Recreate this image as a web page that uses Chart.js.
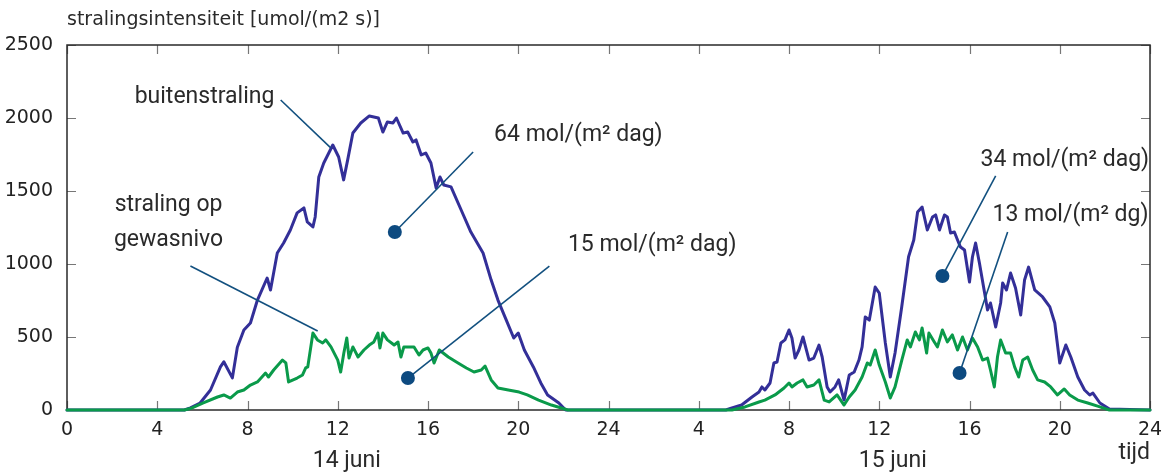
<!DOCTYPE html>
<html>
<head>
<meta charset="utf-8">
<script src="https://cdn.jsdelivr.net/npm/chart.js@4/dist/chart.umd.min.js"></script>
<style>
  html, body { margin: 0; padding: 0; background: #fff; }
  #wrap { width: 1165px; height: 475px; }
</style>
</head>
<body>
<div id="wrap"><canvas id="chart"></canvas></div>
<script>
// hours since midnight 14 juni (0..48)
const outsideHours = [
    0, 5.2, 5.47, 5.9, 6.36, 6.8, 6.95, 7.33, 7.55, 7.84, 8.13, 8.44, 8.87, 9.02, 9.32, 9.6, 9.9,
    10.2, 10.5, 10.65, 10.9, 11.0, 11.16, 11.38, 11.78, 12.04, 12.26, 12.44, 12.67, 13.02, 13.4,
    13.8, 14.0, 14.2, 14.45, 14.6, 14.9, 15.1, 15.33, 15.47, 15.7, 15.9, 16.13, 16.36, 16.53, 16.7,
    17.02, 17.47, 17.9, 18.44, 18.8, 19.1, 19.47, 19.8, 20.0, 20.27, 20.67, 21.0, 21.3, 21.8, 22.1,
    29.2, 29.47, 29.9, 30.36, 30.67, 30.8, 30.93, 31.16, 31.33, 31.47, 31.64, 31.82, 32.0, 32.13,
    32.27, 32.44, 32.62, 32.89, 33.1, 33.33, 33.47, 33.69, 33.82, 34.04, 34.2, 34.44, 34.67, 34.89,
    35.1, 35.24, 35.38, 35.56, 35.82, 36.0, 36.27, 36.49, 36.7, 37.0, 37.3, 37.53, 37.7, 37.9,
    38.13, 38.36, 38.5, 38.67, 38.89, 39.02, 39.16, 39.33, 39.47, 39.6, 39.78, 40.0, 40.13, 40.27,
    40.44, 40.67, 40.8, 40.93, 41.16, 41.38, 41.47, 41.64, 41.82, 42.04, 42.27, 42.44, 42.62,
    42.89, 43.24, 43.56, 43.78, 44.0, 44.27, 44.49, 44.8, 45.1, 45.33, 45.47, 45.78, 46.2, 48
];
const outsideValues = [
    0, 0, 14, 48, 137, 295, 330, 220, 430, 548, 596, 753, 904, 822, 1075, 1144, 1233,
    1350, 1384, 1288, 1254, 1322, 1596, 1692, 1815, 1733, 1576, 1713, 1897, 1966, 2014,
    2000, 1904, 1973, 1966, 2000, 1897, 1904, 1836, 1850, 1747, 1760, 1692, 1521, 1596, 1541,
    1528, 1370, 1219, 1075, 890, 753, 616, 493, 527, 411, 295, 185, 103, 48, 0,
    0, 14, 34, 89, 123, 158, 137, 185, 322, 329, 459, 480, 548, 493,
    356, 411, 500, 342, 356, 445, 363, 158, 123, 158, 206, 68, 240, 260,
    342, 432, 637, 616, 842, 801, 459, 226, 390, 710, 1050, 1164, 1356, 1390,
    1233, 1322, 1336, 1233, 1336, 1322, 1212, 1219, 1164, 1116, 1096, 877, 1048, 1144,
    1007, 801, 685, 733, 569, 733, 870, 822, 938, 836, 651, 890, 979,
    822, 774, 706, 596, 322, 445, 363, 226, 137, 103, 116, 48, 7, 0
];

const cropHours = [
    0, 5.2, 5.47, 6.04, 6.67, 6.95, 7.24, 7.55, 7.84, 8.13, 8.44, 8.8, 8.93, 9.16, 9.55, 9.7, 9.82,
    10.2, 10.44, 10.58, 10.67, 10.9, 11.1, 11.33, 11.47, 11.7, 12.0, 12.13, 12.27, 12.4, 12.5, 12.67,
    12.9, 13.16, 13.4, 13.6, 13.78, 13.87, 14.0, 14.2, 14.5, 14.67, 14.8, 14.93, 15.38, 15.6, 15.78,
    16.0, 16.13, 16.27, 16.5, 16.9, 17.33, 17.7, 18.04, 18.36, 18.53, 18.8, 19.1, 19.56, 20.04, 20.4,
    20.9, 21.47, 22.2,
    29.47, 30.05, 30.67, 30.93, 31.38, 31.78, 32.0, 32.13, 32.36, 32.62, 32.8, 33.1, 33.33, 33.56,
    33.78, 34.13, 34.44, 34.67, 34.93, 35.24, 35.47, 35.6, 35.82, 36.0, 36.27, 36.49, 36.7, 37.0,
    37.24, 37.38, 37.6, 37.78, 37.9, 38.1, 38.2, 38.44, 38.58, 38.8, 39.02, 39.24, 39.47, 39.69,
    39.91, 40.13, 40.36, 40.58, 40.8, 40.93, 41.1, 41.24, 41.38, 41.6, 41.82, 42.0, 42.18, 42.36,
    42.58, 42.8, 43.02, 43.33, 43.6, 43.9, 44.2, 44.44, 44.8, 45.24, 45.78, 46.2, 48
];
const cropValues = [
    0, 0, 10, 48, 89, 103, 82, 123, 137, 171, 192, 253, 226, 274, 342, 322, 192,
    219, 240, 288, 295, 527, 480, 459, 480, 432, 342, 260, 390, 493, 356, 432,
    363, 411, 445, 466, 527, 425, 527, 480, 445, 466, 363, 432, 432, 377, 411,
    425, 390, 322, 411, 363, 322, 288, 260, 274, 301, 206, 151, 137, 123, 103,
    68, 34, 0,
    0, 21, 55, 68, 103, 151, 185, 158, 185, 206, 158, 171, 206, 68,
    55, 103, 34, 89, 137, 226, 322, 308, 411, 308, 192, 82, 158, 342,
    480, 432, 534, 480, 562, 390, 527, 466, 432, 548, 466, 514, 411, 500,
    411, 493, 432, 342, 356, 274, 158, 363, 480, 390, 390, 295, 226, 342,
    363, 274, 206, 192, 158, 103, 144, 103, 68, 48, 21, 0, 0
];

const dayLabels = ['14 juni', '15 juni'];
const dayLabelHours = [12.4, 36.6];

// annotation texts with dot and leader line end, in hours / umol units
const notes = [
    { text: ['buitenstraling'], at: [3.0, 2144], from: [9.47, 2123], to: [11.69, 1795] },
    { text: ['straling op', 'gewasnivo'], at: [4.5, 1405], from: [5.47, 986], to: [11.11, 541], center: true },
    { text: ['64 mol/(m² dag)'], at: [18.93, 1884], dot: [14.53, 1219], to: [18.0, 1767] },
    { text: ['15 mol/(m² dag)'], at: [22.2, 1130], dot: [15.11, 219], to: [21.38, 986] },
    { text: ['34 mol/(m² dag)'], at: [40.49, 1712], dot: [38.8, 918], to: [41.16, 1603] },
    { text: ['13 mol/(m² dg)'], at: [41.02, 1336], dot: [39.56, 253], to: [41.69, 1219] }
];

const toPoints = (hours, values) => hours.map((h, i) => ({ x: h, y: values[i] }));

const frame = {
    id: 'frame',
    beforeDatasetsDraw(chart) {
        const { ctx, chartArea: a, scales: { x, y } } = chart;
        ctx.save();
        ctx.strokeStyle = '#777';
        ctx.lineWidth = 1.2;
        ctx.beginPath();
        x.ticks.forEach((t) => {
            const px = Math.round(x.getPixelForValue(t.value)) + 0.5;
            ctx.moveTo(px, a.bottom); ctx.lineTo(px, a.bottom - 9);
            ctx.moveTo(px, a.top); ctx.lineTo(px, a.top + 9);
        });
        y.ticks.forEach((t) => {
            const py = Math.round(y.getPixelForValue(t.value)) + 0.5;
            ctx.moveTo(a.left, py); ctx.lineTo(a.left + 9, py);
            ctx.moveTo(a.right, py); ctx.lineTo(a.right - 9, py);
        });
        ctx.stroke();
        ctx.strokeStyle = '#2a2a2a';
        ctx.lineWidth = 1.5;
        ctx.strokeRect(a.left, a.top, a.width, a.height);
        ctx.restore();
    },
    afterDatasetsDraw(chart) {
        const { ctx, chartArea: a, scales: { x, y } } = chart;
        ctx.save();
        ctx.font = '23px Roboto';
        ctx.fillStyle = '#2a2a2a';
        ctx.textBaseline = 'middle';

        notes.forEach((n) => {
            const start = n.dot || n.from;
            ctx.strokeStyle = '#12507f';
            ctx.lineWidth = 1.6;
            ctx.beginPath();
            ctx.moveTo(x.getPixelForValue(start[0]), y.getPixelForValue(start[1]));
            ctx.lineTo(x.getPixelForValue(n.to[0]), y.getPixelForValue(n.to[1]));
            ctx.stroke();
            if (n.dot) {
                ctx.fillStyle = '#0d4a80';
                ctx.beginPath();
                ctx.arc(x.getPixelForValue(n.dot[0]), y.getPixelForValue(n.dot[1]), 7, 0, Math.PI * 2);
                ctx.fill();
            }
            ctx.fillStyle = '#2a2a2a';
            ctx.textAlign = n.center ? 'center' : 'left';
            const tx = x.getPixelForValue(n.at[0]);
            const ty = y.getPixelForValue(n.at[1]);
            n.text.forEach((line, i) => {
                ctx.fillText(line, tx, ty + i * 35);
            });
        });

        // day labels and axis names
        ctx.textAlign = 'center';
        dayLabels.forEach((label, i) => {
            ctx.fillText(label, x.getPixelForValue(dayLabelHours[i]), a.bottom + 51);
        });
        ctx.textAlign = 'right';
        ctx.fillText('tijd', a.right, a.bottom + 43);

        ctx.font = '19px "DejaVu Sans"';
        ctx.textAlign = 'left';
        ctx.fillText('stralingsintensiteit [umol/(m2 s)]', a.left, 20);
        ctx.restore();
    }
};

new Chart(document.getElementById('chart'), {
    type: 'line',
    data: {
        datasets: [
            {
                label: 'straling op gewasnivo',
                data: toPoints(cropHours, cropValues),
                borderColor: '#0a9a4a',
                borderWidth: 3,
                clip: 6
            },
            {
                label: 'buitenstraling',
                data: toPoints(outsideHours, outsideValues),
                borderColor: '#332f98',
                borderWidth: 3,
                clip: 6
            }
        ]
    },
    options: {
        responsive: true,
        maintainAspectRatio: false,
        animation: false,
        layout: { padding: { left: 0, right: 15, top: 45, bottom: 0 } },
        elements: {
            point: { radius: 0 },
            line: { tension: 0, borderJoinStyle: 'round', borderCapStyle: 'round' }
        },
        plugins: {
            legend: { display: false },
            tooltip: { enabled: false }
        },
        scales: {
            x: {
                type: 'linear',
                min: 0,
                max: 48,
                grid: { display: false },
                border: { display: false },
                afterFit: (scale) => { scale.height = 65; },
                ticks: {
                    stepSize: 4,
                    padding: 1,
                    color: '#222',
                    font: { family: 'DejaVu Sans', size: 19 },
                    maxRotation: 0,
                    callback: (v) => (v === 0 ? '0' : String(v % 24 === 0 ? 24 : v % 24))
                }
            },
            y: {
                min: 0,
                max: 2500,
                grid: { display: false },
                border: { display: false },
                afterFit: (scale) => { scale.width = 67; },
                ticks: {
                    stepSize: 500,
                    padding: 6,
                    color: '#222',
                    font: { family: 'DejaVu Sans', size: 19 },
                    callback: (v) => String(v)
                }
            }
        }
    },
    plugins: [frame]
});
</script>
</body>
</html>
